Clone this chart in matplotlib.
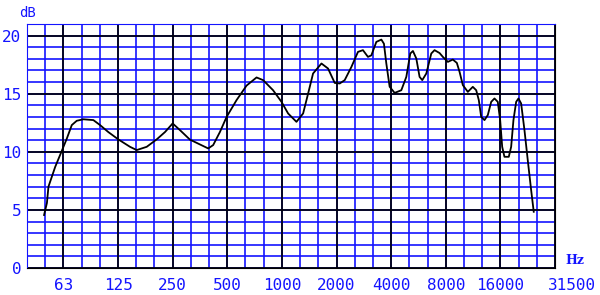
"""Frequency response chart on a blue 1/3-octave grid."""

import matplotlib

matplotlib.use("Agg")
import matplotlib.pyplot as plt  # noqa: E402
import numpy as np  # noqa: E402

# response curve (Hz, dB)
freq_hz = [
    48.9, 50.7, 51.7, 56.3, 61.3, 65.3, 69.5, 74.0, 80.5, 91.4,
    99.5, 110.5, 125.4, 145.5, 158.4, 179.9, 204.2, 226.8, 250.0, 274.2,
    311.2, 392.6, 418.1, 455.3, 495.6, 562.5, 638.6, 725.0, 788.0, 894.0,
    995.0, 1082, 1203, 1309, 1394, 1485, 1652, 1796, 1955, 2083,
    2219, 2415, 2626, 2797, 2981, 3112, 3315, 3533, 3651, 3763,
    3925, 4181, 4551, 4850, 5101, 5274, 5505, 5739, 5938, 6251,
    6657, 6939, 7396, 7711, 8217, 8753, 9209, 9532, 9937, 10588,
    11277, 11774, 12169, 12544, 13080, 13640, 14240, 14846, 15480, 15955,
    16370, 16850, 17800, 18344, 18886, 19548, 20127, 20823, 21720, 22645,
    23640, 24432,
]
level_db = [
    4.56, 5.6, 7.0, 8.7, 10.1, 11.15, 12.3, 12.67, 12.8, 12.73,
    12.3, 11.7, 11.07, 10.43, 10.15, 10.43, 11.07, 11.7, 12.44, 11.87,
    11.05, 10.29, 10.58, 11.7, 13.0, 14.45, 15.7, 16.4, 16.17, 15.3,
    14.3, 13.3, 12.58, 13.3, 15.0, 16.74, 17.6, 17.17, 15.93, 15.88,
    16.17, 17.3, 18.6, 18.75, 18.17, 18.3, 19.46, 19.66, 19.3, 17.6,
    15.6, 15.07, 15.3, 16.45, 18.46, 18.68, 18.03, 16.45, 16.17, 16.74,
    18.46, 18.75, 18.5, 18.17, 17.74, 17.94, 17.65, 16.88, 15.74, 15.16,
    15.59, 15.3, 14.45, 13.0, 12.73, 13.16, 14.3, 14.59, 14.3, 12.73,
    10.43, 9.57, 9.57, 10.43, 12.73, 14.3, 14.59, 14.16, 11.87, 9.29,
    6.71, 4.84,
]

octave_hz = [62.5, 125, 250, 500, 1000, 2000, 4000, 8000, 16000]
octave_labels = ["63", "125", "250", "500", "1000", "2000", "4000", "8000", "16000"]
last_label = "31500"
db_ticks = [0, 5, 10, 15, 20]

BLUE = "#1414ff"
f_lo, f_hi = 62.5 / 2 ** (2 / 3), 32000.0

fig = plt.figure(figsize=(6.0, 2.95), dpi=100)
ax = fig.add_axes([27 / 600, 1 - 268 / 295, 528 / 600, 244 / 295])
ax.set_xscale("log", base=2)
ax.set_xlim(f_lo, f_hi)
ax.set_ylim(0, 21)

# third-octave and 1 dB grid in blue, octaves and 5 dB in black
thirds = 1000 * 2.0 ** (np.arange(-14, 16) / 3)
for f in thirds:
    ax.axvline(f, color=BLUE, lw=1.2, zorder=1)
for d in range(0, 22):
    ax.axhline(d, color=BLUE, lw=1.2, zorder=1)
for f in octave_hz + [f_hi]:
    ax.axvline(f, color="black", lw=1.2, zorder=2)
for d in db_ticks:
    ax.axhline(d, color="black", lw=1.2, zorder=2)

ax.plot(freq_hz, level_db, color="black", lw=1.3, zorder=3)

for side in ("left", "top"):
    ax.spines[side].set_color(BLUE)
for side in ("right", "bottom"):
    ax.spines[side].set_color("black")

ax.set_xticks(octave_hz)
ax.set_xticklabels(octave_labels)
ax.xaxis.set_minor_locator(matplotlib.ticker.NullLocator())
ax.set_yticks(db_ticks)
ax.tick_params(length=0, colors=BLUE, labelsize=11.5)
ax.tick_params(axis="x", pad=7)
ax.tick_params(axis="y", pad=4)
for lab in ax.get_xticklabels() + ax.get_yticklabels():
    lab.set_family("DejaVu Sans Mono")

ax.annotate(last_label, xy=(f_hi, 0), xycoords=("data", "axes fraction"),
            xytext=(12, -7), textcoords="offset points", ha="center", va="top",
            color=BLUE, fontsize=11.5, family="DejaVu Sans Mono")
fig.text(28 / 600, 1 - 13 / 295, "dB", color=BLUE, fontsize=10,
         family="DejaVu Sans Mono", ha="center", va="center")
fig.text(575 / 600, 1 - 261 / 295, "Hz", color=BLUE, fontsize=9,
         family="DejaVu Serif", weight="bold", ha="center", va="center")

fig.savefig("out.png", dpi=100)
plt.close(fig)
